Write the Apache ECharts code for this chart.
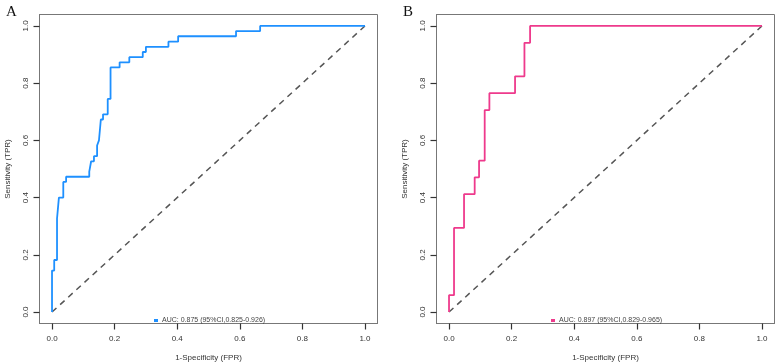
<!DOCTYPE html>
<html>
<head>
<meta charset="utf-8">
<script src="https://cdn.jsdelivr.net/npm/echarts@6/dist/echarts.min.js"></script>
<style>
  html, body { margin: 0; padding: 0; background: #fff; }
  #chart { width: 777px; height: 364px; }
</style>
</head>
<body>
<div id="chart"></div>
<script>
// ROC coordinates
const leftFpr = [0, 0, 0.007, 0.007, 0.016, 0.016, 0.022, 0.022, 0.036, 0.036, 0.045, 0.045, 0.119, 0.119,
  0.125, 0.125, 0.134, 0.134, 0.144, 0.144, 0.150, 0.150, 0.156, 0.156, 0.163, 0.163, 0.178, 0.178,
  0.187, 0.187, 0.216, 0.216, 0.247, 0.247, 0.290, 0.290, 0.300, 0.300, 0.372, 0.372, 0.403, 0.403,
  0.588, 0.588, 0.665, 0.665, 1]
const leftTpr = [0, 0.145, 0.145, 0.182, 0.182, 0.327, 0.327, 0.400, 0.400, 0.455, 0.455, 0.473, 0.473,
  0.491, 0.491, 0.527, 0.527, 0.545, 0.545, 0.582, 0.582, 0.600, 0.600, 0.673, 0.673, 0.691, 0.691,
  0.745, 0.745, 0.855, 0.855, 0.873, 0.873, 0.891, 0.891, 0.909, 0.909, 0.927, 0.927, 0.945, 0.945,
  0.964, 0.964, 0.982, 0.982, 1, 1]

const rightFpr = [0, 0, 0.016, 0.016, 0.048, 0.048, 0.082, 0.082, 0.096, 0.096, 0.114, 0.114,
  0.129, 0.129, 0.211, 0.211, 0.241, 0.241, 0.259, 0.259, 1]
const rightTpr = [0, 0.059, 0.059, 0.294, 0.294, 0.412, 0.412, 0.471, 0.471, 0.529, 0.529, 0.706,
  0.706, 0.765, 0.765, 0.824, 0.824, 0.941, 0.941, 1, 1]

const leftName = 'AUC: 0.875 (95%CI,0.825-0.926)'
const rightName = 'AUC: 0.897 (95%CI,0.829-0.965)'
const tickValues = [0, 0.2, 0.4, 0.6, 0.8, 1.0]
const diagonal = [[0, 0], [1, 1]]

const FONT = 'Liberation Sans'
const zip = (xs, ys) => xs.map((x, i) => [x, ys[i]])

function xAxisFor(gridIndex) {
  return {
    type: 'value',
    gridIndex,
    min: -0.04,
    max: 1.04,
    name: '1-Specificity (FPR)',
    nameLocation: 'middle',
    nameGap: 30,
    nameTextStyle: { fontFamily: FONT, fontSize: 8, color: '#333' },
    axisLine: { show: true, onZero: false, lineStyle: { color: '#777', width: 1 } },
    axisTick: { show: true, inside: false, length: 6, customValues: tickValues, lineStyle: { color: '#333', width: 1.2 } },
    axisLabel: {
      customValues: tickValues, margin: 11, fontFamily: FONT, fontSize: 8, color: '#333',
      formatter: (v) => v.toFixed(1),
    },
    splitLine: { show: false },
  }
}

function yAxisFor(gridIndex) {
  return {
    type: 'value',
    gridIndex,
    min: -0.04,
    max: 1.04,
    name: 'Sensitivity (TPR)',
    nameLocation: 'middle',
    nameGap: 28,
    nameTextStyle: { fontFamily: FONT, fontSize: 8, color: '#333' },
    axisLine: { show: true, onZero: false, lineStyle: { color: '#777', width: 1 } },
    axisTick: { show: true, inside: false, length: 6, customValues: tickValues, lineStyle: { color: '#333', width: 1.2 } },
    axisLabel: {
      customValues: tickValues, rotate: 90, margin: 10, fontFamily: FONT, fontSize: 8, color: '#333',
      formatter: (v) => v.toFixed(1),
    },
    splitLine: { show: false },
  }
}

function diagSeries(idx) {
  return {
    type: 'line',
    xAxisIndex: idx,
    yAxisIndex: idx,
    data: diagonal,
    showSymbol: false,
    silent: true,
    lineStyle: { color: '#555', width: 1.5, type: [6, 5] },
    z: 1,
  }
}

const gridBase = {
  top: 14.5, width: 338, height: 309, show: true, borderColor: '#777', borderWidth: 1,
  backgroundColor: 'transparent', containLabel: false, outerBoundsMode: 'none',
}

const chart = echarts.init(document.getElementById('chart'))
chart.setOption({
  animation: false,
  backgroundColor: '#fff',
  title: [
    { text: 'A', left: 1, top: 0, textStyle: { fontFamily: 'Liberation Serif', fontSize: 15, fontWeight: 'normal', color: '#111' } },
    { text: 'B', left: 398, top: 0, textStyle: { fontFamily: 'Liberation Serif', fontSize: 15, fontWeight: 'normal', color: '#111' } },
  ],
  grid: [
    Object.assign({ left: 39.5 }, gridBase),
    Object.assign({ left: 436.5 }, gridBase),
  ],
  legend: [
    {
      data: [leftName], left: 149, top: 312, icon: 'rect', itemWidth: 4, itemHeight: 3, itemGap: 2,
      textStyle: { fontFamily: FONT, fontSize: 7, color: '#444', padding: [0, 0, 0, -1] },
    },
    {
      data: [rightName], left: 546, top: 312, icon: 'rect', itemWidth: 4, itemHeight: 3, itemGap: 2,
      textStyle: { fontFamily: FONT, fontSize: 7, color: '#444', padding: [0, 0, 0, -1] },
    },
  ],
  xAxis: [xAxisFor(0), xAxisFor(1)],
  yAxis: [yAxisFor(0), yAxisFor(1)],
  series: [
    diagSeries(0),
    diagSeries(1),
    {
      name: leftName,
      type: 'line',
      xAxisIndex: 0,
      yAxisIndex: 0,
      data: zip(leftFpr, leftTpr),
      showSymbol: false,
      color: '#1E90FF',
      lineStyle: { color: '#1E90FF', width: 1.8 },
      z: 3,
    },
    {
      name: rightName,
      type: 'line',
      xAxisIndex: 1,
      yAxisIndex: 1,
      data: zip(rightFpr, rightTpr),
      showSymbol: false,
      color: '#EE3A8C',
      lineStyle: { color: '#EE3A8C', width: 1.8 },
      z: 3,
    },
  ],
})
</script>
</body>
</html>
